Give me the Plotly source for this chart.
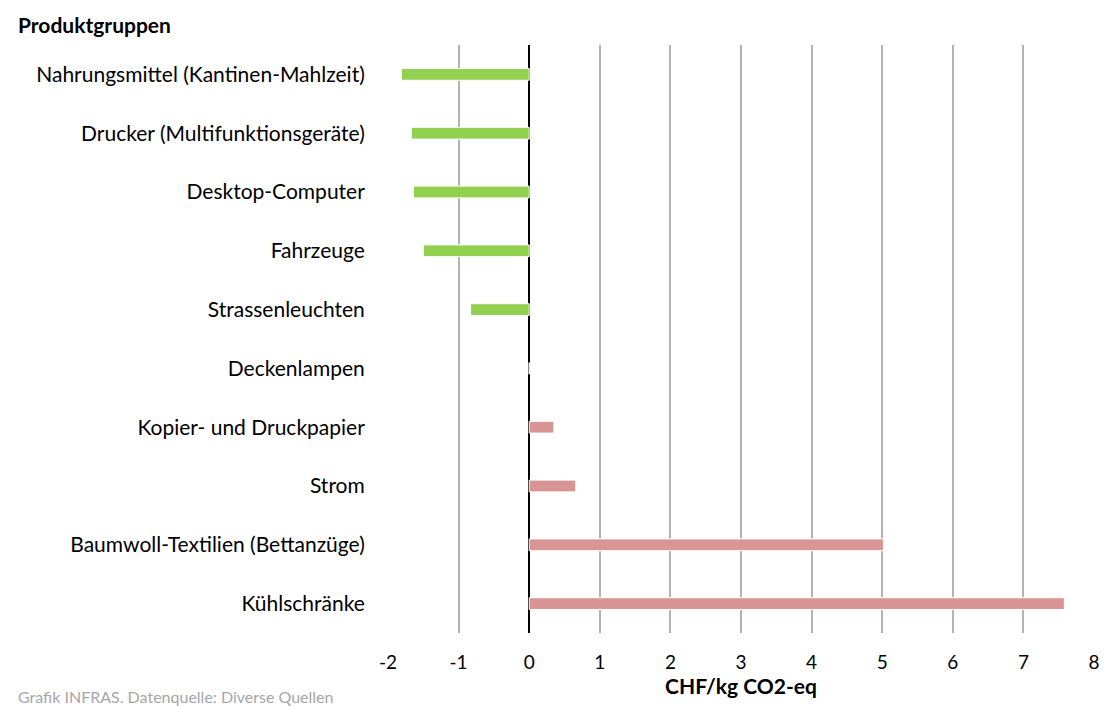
import plotly.graph_objects as go

categories = [
    "Nahrungsmittel (Kantinen-Mahlzeit)",
    "Drucker (Multifunktionsgeräte)",
    "Desktop-Computer",
    "Fahrzeuge",
    "Strassenleuchten",
    "Deckenlampen",
    "Kopier- und Druckpapier",
    "Strom",
    "Baumwoll-Textilien (Bettanzüge)",
    "Kühlschränke",
]
values = [-1.81, -1.67, -1.64, -1.50, -0.83, 0.0, 0.35, 0.66, 5.02, 7.58]
x_ticks = [-2, -1, 0, 1, 2, 3, 4, 5, 6, 7, 8]

GREEN = "#92d050"
PINK = "#d99594"
colors = [GREEN if v < 0 else PINK for v in values]

FONT = "Lato"
W, H = 1104, 706
ML, MR, MT, MB = 388, 10, 45, 73

fig = go.Figure(go.Bar(
    x=values,
    y=categories,
    orientation="h",
    width=0.2,
    marker=dict(color=colors, line=dict(color="white", width=1)),
    showlegend=False,
))

pw = W - ML - MR
ph = H - MT - MB


def px(x):
    return (x - ML) / pw


def py(y):
    return 1 - (y - MT) / ph


fig.update_layout(
    width=W,
    height=H,
    margin=dict(l=ML, r=MR, t=MT, b=MB, autoexpand=False),
    paper_bgcolor="white",
    plot_bgcolor="white",
    font=dict(family=FONT, size=21, color="#000000"),
    xaxis=dict(
        range=[-2, 8],
        tickvals=x_ticks,
        ticktext=[str(t) for t in x_ticks],
        showgrid=True,
        gridcolor="#b3b3b3",
        gridwidth=2,
        zeroline=True,
        zerolinecolor="#000000",
        zerolinewidth=2,
        showline=False,
        automargin=False,
        ticks="outside",
        ticklen=12,
        tickcolor="rgba(0,0,0,0)",
        tickfont=dict(size=19),
        title=dict(text="<b>CHF/kg CO2-eq</b>", font=dict(size=21), standoff=5),
    ),
    yaxis=dict(
        categoryorder="array",
        categoryarray=categories,
        autorange="reversed",
        showgrid=False,
        zeroline=False,
        showline=False,
        automargin=False,
        ticks="outside",
        ticklen=18,
        tickcolor="rgba(0,0,0,0)",
        tickfont=dict(size=21),
    ),
    annotations=[
        dict(text="<b>Produktgruppen</b>", x=px(16), y=py(25), xref="paper", yref="paper",
             showarrow=False, xanchor="left", yanchor="middle",
             font=dict(size=21)),
        dict(text="Grafik INFRAS. Datenquelle: Diverse Quellen", x=px(16), y=py(696),
             xref="paper", yref="paper", showarrow=False, xanchor="left",
             yanchor="middle", font=dict(size=16, color="#a6a6a6")),
    ],
)

fig.write_html(
    "out.html",
    config={"displayModeBar": False},
    post_script="document.body.style.margin='0';document.body.style.overflow='hidden';",
)
